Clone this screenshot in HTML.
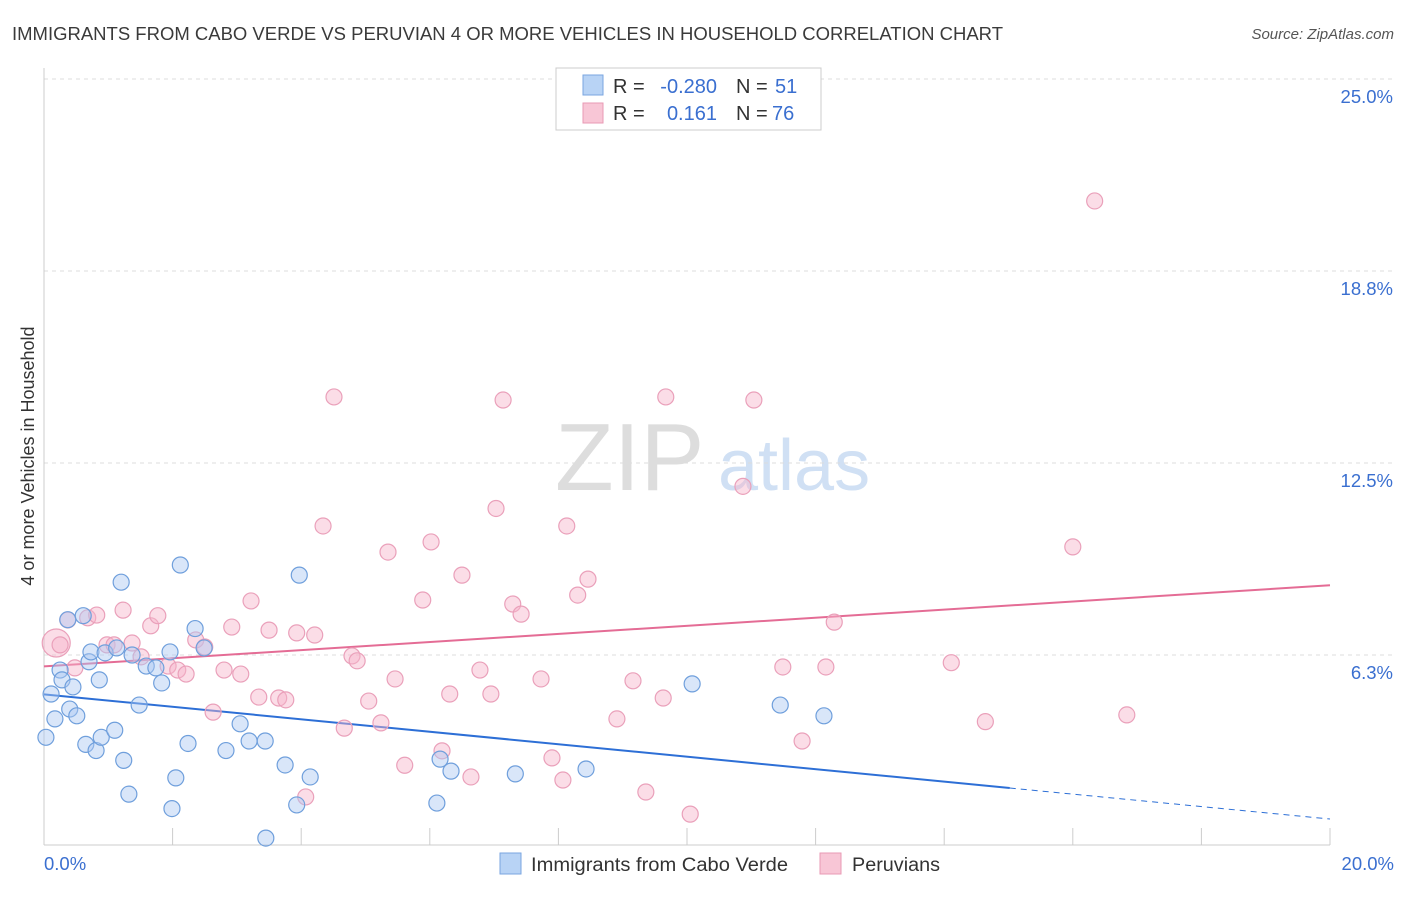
<!DOCTYPE html>
<html><head><meta charset="utf-8"><style>
body{margin:0;background:#fff;font-family:"Liberation Sans",sans-serif;}
svg text{font-family:"Liberation Sans",sans-serif;}
</style></head><body>
<svg id="chart" width="1406" height="892" xmlns="http://www.w3.org/2000/svg">
<text x="12" y="40" font-size="18" fill="#3a3a3a" textLength="991" lengthAdjust="spacingAndGlyphs">IMMIGRANTS FROM CABO VERDE VS PERUVIAN 4 OR MORE VEHICLES IN HOUSEHOLD CORRELATION CHART</text>
<text x="1394" y="39" font-size="15" fill="#555" text-anchor="end" font-style="italic">Source: ZipAtlas.com</text>
<text transform="translate(34,456) rotate(-90)" font-size="18" fill="#333" text-anchor="middle">4 or more Vehicles in Household</text>
<g><text x="555" y="490" font-size="96" fill="#ddd" font-family="Liberation Serif">ZIP</text><text x="718" y="490" font-size="72" fill="#d0e0f4">atlas</text></g>
<g id="grid"></g><g id="axes"></g><g id="trends"></g><g id="pts"></g>
<g>
<rect x="556" y="68" width="265" height="62" fill="#fff" stroke="#ccc"/>
<rect x="583" y="75" width="20" height="20" fill="#b8d3f5" stroke="#7aa6e0"/>
<rect x="583" y="103" width="20" height="20" fill="#f8c6d6" stroke="#e89ab4"/>
<text x="613" y="93" font-size="20" fill="#333">R =</text>
<text x="717" y="93" font-size="20" fill="#3a6fd0" text-anchor="end">-0.280</text>
<text x="736" y="93" font-size="20" fill="#333">N =</text>
<text x="775" y="93" font-size="20" fill="#3a6fd0">51</text>
<text x="613" y="120" font-size="20" fill="#333">R =</text>
<text x="717" y="120" font-size="20" fill="#3a6fd0" text-anchor="end">0.161</text>
<text x="736" y="120" font-size="20" fill="#333">N =</text>
<text x="772" y="120" font-size="20" fill="#3a6fd0">76</text>
</g>
<g>
<rect x="500" y="853" width="21" height="21" fill="#b8d3f5" stroke="#7aa6e0"/>
<text x="531" y="871" font-size="19" fill="#333" textLength="257" lengthAdjust="spacingAndGlyphs">Immigrants from Cabo Verde</text>
<rect x="820" y="853" width="21" height="21" fill="#f8c6d6" stroke="#e89ab4"/>
<text x="852" y="871" font-size="19" fill="#333" textLength="88" lengthAdjust="spacingAndGlyphs">Peruvians</text>
</g>
</svg>
<script>
const yTicks=[25,18.75,12.5,6.25];
const yTickLabels=["25.0%","18.8%","12.5%","6.3%"];
const xTickLabels=["0.0%","20.0%"];
const blueX=[0.03,0.11,0.17,0.25,0.28,0.37,0.40,0.45,0.51,0.61,0.65,0.70,0.73,0.81,0.86,0.89,0.95,1.10,1.13,1.20,1.24,1.32,1.37,1.48,1.59,1.74,1.83,1.96,1.99,2.05,2.12,2.24,2.35,2.49,2.83,3.05,3.19,3.44,3.45,3.75,3.93,3.97,4.14,6.11,6.16,6.33,7.33,8.43,10.08,11.45,12.13];
const blueY=[3.57,4.98,4.17,5.76,5.44,7.40,4.49,5.21,4.27,7.53,3.34,6.03,6.35,3.14,5.44,3.57,6.32,3.80,6.48,8.62,2.82,1.72,6.25,4.62,5.89,5.83,5.34,6.35,1.25,2.25,9.18,3.37,7.11,6.48,3.14,4.01,3.45,3.45,0.29,2.67,1.37,8.85,2.28,1.43,2.86,2.47,2.38,2.54,5.31,4.62,4.27];
const pinkX=[0.19,0.25,0.37,0.48,0.68,0.82,0.98,1.09,1.23,1.37,1.51,1.66,1.77,1.93,2.08,2.21,2.36,2.50,2.63,2.80,2.92,3.06,3.22,3.34,3.50,3.65,3.76,3.93,4.07,4.21,4.34,4.51,4.67,4.79,4.87,5.05,5.24,5.35,5.46,5.61,5.89,6.02,6.19,6.31,6.50,6.64,6.78,6.95,7.03,7.14,7.29,7.42,7.73,7.90,8.07,8.13,8.30,8.46,8.91,9.16,9.36,9.63,9.67,10.05,10.87,11.04,11.49,11.79,12.16,12.29,14.11,14.64,16.00,16.34,16.84];
const pinkY=[6.64,6.58,7.39,5.83,7.46,7.55,6.58,6.58,7.71,6.64,6.19,7.20,7.53,5.89,5.76,5.63,6.74,6.51,4.39,5.76,7.16,5.63,8.01,4.88,7.06,4.85,4.79,6.97,1.63,6.90,10.45,14.65,3.87,6.22,6.06,4.75,4.04,9.60,5.47,2.66,8.04,9.93,3.13,4.98,8.85,2.28,5.76,4.98,11.02,14.55,7.91,7.58,5.47,2.90,2.18,10.45,8.20,8.72,4.17,5.41,1.79,4.85,14.65,1.07,11.74,14.55,5.86,3.45,5.86,7.32,6.00,4.08,9.77,21.03,4.30];
const blueTrend=[[0,4.97],[15.02,1.92]];
const blueTrendDash=[[15.02,1.92],[20,0.91]];
const pinkTrend=[[0,5.88],[20,8.52]];
const X=v=>44+v/20*1286, Y=v=>847-v/6.25*192;
const NS="http://www.w3.org/2000/svg";
function mk(t,a,p){const e=document.createElementNS(NS,t);for(const k in a)e.setAttribute(k,a[k]);p.appendChild(e);return e;}
const grid=document.getElementById('grid'),axes=document.getElementById('axes'),tr=document.getElementById('trends'),pts=document.getElementById('pts');
yTicks.forEach((t,i)=>{
 const l=mk('line',{x1:44,x2:1394,y1:Y(t),y2:Y(t),stroke:'#ddd','stroke-dasharray':'4,4'},grid);
 
 
 const tx=mk('text',{x:1393,y:Y(t)+24,'font-size':18.5,fill:'#3a6fd0','text-anchor':'end'},axes);
 tx.textContent=yTickLabels[i];
 
 
});
const al=mk('line',{x1:44,x2:44,y1:68,y2:845,stroke:'#ccc'},axes);


const bl=mk('line',{x1:44,x2:1330,y1:845,y2:845,stroke:'#ccc'},axes);


for(let i=0;i<=10;i++){
 const t=mk('line',{x1:X(i*2),x2:X(i*2),y1:828,y2:845,stroke:'#ccc'},axes);
 
 
}
[[0,'start',44],[1,'end',1394]].forEach(([i,a,x])=>{
 const t=mk('text',{x:x,y:870,'font-size':18.5,fill:'#3a6fd0','text-anchor':a},axes);
 t.textContent=xTickLabels[i];
 
 
});
function line(p,c,d,n){const e=mk('line',{x1:X(p[0][0]),y1:Y(p[0][1]),x2:X(p[1][0]),y2:Y(p[1][1]),stroke:c,'stroke-width':2},tr);if(d)e.setAttribute('stroke-dasharray','6,5'),e.setAttribute('stroke-width',1);
 
 }
line(pinkTrend,'#e46c95',false,'peruvian-trendline');
line(blueTrend,'#2d6fd6',false,'cabo-verde-trendline');
line(blueTrendDash,'#2d6fd6',true,'cabo-verde-trendline-extension');
pinkX.forEach((x,i)=>{
 const c=mk('circle',{cx:X(x),cy:Y(pinkY[i]),r:i==0?14:8,fill:'rgba(246,180,202,0.45)',stroke:'#eaa0ba','stroke-width':1.2},pts);
 
 
});
blueX.forEach((x,i)=>{
 const c=mk('circle',{cx:X(x),cy:Y(blueY[i]),r:8,fill:'rgba(170,200,242,0.45)',stroke:'#6f9fdc','stroke-width':1.2},pts);
 
 
});
</script>
</body></html>
